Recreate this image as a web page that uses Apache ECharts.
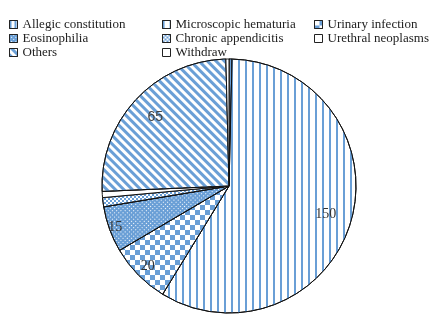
<!DOCTYPE html>
<html>
<head>
<meta charset="utf-8">
<script src="https://cdn.jsdelivr.net/npm/echarts@6/dist/echarts.min.js"></script>
<style>html,body{margin:0;padding:0;background:#fff;}#c{width:442px;height:319px;}</style>
</head>
<body>
<div id="c"></div>
<script>
const categories = ['Allegic constitution','Microscopic hematuria','Urinary infection','Eosinophilia','Chronic appendicitis','Urethral neoplasms','Others','Withdraw'];
const values = [1, 150, 20, 15, 3, 2, 65, 1];
const legendCol1 = ['Allegic constitution','Eosinophilia','Others'];
const legendCol2 = ['Microscopic hematuria','Chronic appendicitis','Withdraw'];
const legendCol3 = ['Urinary infection','Urethral neoplasms'];

const BLUE = '#6a9fd6';
const styles = [
  {color:'#fff', decal:{symbol:'rect', symbolSize:1, color:BLUE, dashArrayX:[2,3], dashArrayY:[10,0]}},
  {color:'#fff', decal:{symbol:'rect', symbolSize:1, color:BLUE, dashArrayX:[2,4.3], dashArrayY:[10,0]}},
  {color:'#fff', decal:{symbol:'rect', symbolSize:1, color:BLUE, dashArrayX:[[4.5,4.5],[0,4.5,4.5,0]], dashArrayY:[4.5,0]}},
  {color:BLUE, decal:{symbol:'rect', symbolSize:1, color:'#fff', dashArrayX:[1,2], dashArrayY:[1,2], rotation:Math.PI/4}},
  {color:'#fff', decal:{symbol:'rect', symbolSize:1, color:BLUE, dashArrayX:[[2,2],[0,2,2,0]], dashArrayY:[2,0]}},
  {color:'#fff'},
  {color:'#fff', decal:{symbol:'rect', symbolSize:1, color:BLUE, dashArrayX:[2.4,2.4], dashArrayY:[10,0], rotation:-Math.PI/4}},
  {color:'#fff'}
];

const mainData = categories.map((n,i)=>({name:n, value:values[i], itemStyle:Object.assign({borderColor:'#111', borderWidth:1}, styles[i])}));

function labelSeries(radius, labelled){
  return {
    type:'pie', center:[229,186], radius:radius, silent:true, animation:false,
    itemStyle:{color:'rgba(0,0,0,0)', borderWidth:0},
    emphasis:{disabled:true},
    labelLine:{show:false},
    data: categories.map((n,i)=>{
      const lab = labelled[i];
      return {name:n, value:values[i], label: lab ? Object.assign({show:true, position:'inside', formatter:String(values[i]), color:'#333', fontSize:14}, lab) : {show:false}};
    })
  };
}
const serif = {fontFamily:'Liberation Serif'};
const sans = {fontFamily:'Liberation Sans', color:'#444'};

const legendBase = {orient:'vertical', top:18, padding:0, itemGap:1, itemWidth:8, itemHeight:8, icon:'rect', selectedMode:false,
  textStyle:{fontFamily:'Liberation Serif', fontSize:13, color:'#222', lineHeight:13},
  itemStyle:{borderColor:'#222', borderWidth:1}};

const chart = echarts.init(document.getElementById('c'));
chart.setOption({
  animation:false,
  backgroundColor:'#fff',
  legend:[
    Object.assign({}, legendBase, {left:9, data:legendCol1}),
    Object.assign({}, legendBase, {left:162, data:legendCol2}),
    Object.assign({}, legendBase, {left:314, data:legendCol3})
  ],
  series:[
    {type:'pie', center:[229,186], radius:127, startAngle:90, clockwise:true, animation:false,
     label:{show:false}, labelLine:{show:false}, emphasis:{disabled:true}, data:mainData},
    labelSeries(196, [null, serif, null, null, null, null, sans, null]),
    labelSeries(222, [null, null, serif, null, null, null, null, null]),
    labelSeries(236, [null, null, null, serif, null, null, null, null])
  ]
});
</script>
</body>
</html>
